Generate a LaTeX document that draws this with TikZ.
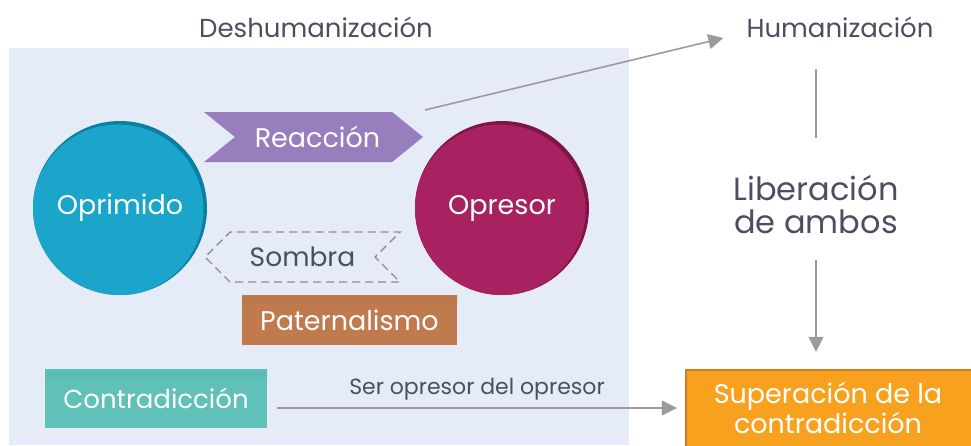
\documentclass[tikz,border=0pt]{standalone}
\usepackage{fontspec}
\setmainfont{Poppins}
\usetikzlibrary{arrows.meta,shapes.symbols,positioning}

\definecolor{bgblue}{HTML}{E6ECF7}
\definecolor{txtgray}{HTML}{4B5060}
\definecolor{arrgray}{HTML}{9A9B9F}
\definecolor{oprimcol}{HTML}{1BA5CB}
\definecolor{oprimrim}{HTML}{0A7FA3}
\definecolor{opresorcol}{HTML}{A82262}
\definecolor{opresorrim}{HTML}{7E1448}
\definecolor{reaccol}{HTML}{997EBD}
\definecolor{sombracol}{HTML}{8F8AA0}
\definecolor{patercol}{HTML}{C07A4E}
\definecolor{paterrim}{HTML}{8E5230}
\definecolor{contracol}{HTML}{60C1B8}
\definecolor{contrarim}{HTML}{1F8C93}
\definecolor{supercol}{HTML}{F7A11F}
\definecolor{superrim}{HTML}{D27A27}

\tikzset{
  plaintext/.style={text=txtgray, inner sep=0pt},
  whitetext/.style={text=white, inner sep=0pt},
  grayarrow/.style={draw=arrgray, line width=1.6pt, -{Triangle[length=15pt,width=15pt]}},
  grayline/.style={draw=arrgray, line width=1.6pt},
  disc/.style={circle, minimum size=174pt, inner sep=0pt, text=white,
    font=\fontsize{27}{30}\selectfont},
  topedge/.style 2 args={fill=#2, path picture={\shade[top color=#2, bottom color=#1]
    (path picture bounding box.north west) rectangle ([yshift=-7pt]path picture bounding box.north east);}},
}

\begin{document}
\begin{tikzpicture}[x=1pt,y=-1pt]
        \useasboundingbox (0,0) rectangle (971,445);

        % Draw the shaded panel
        \fill[bgblue] (9,48) rectangle (629,445);
        \node[plaintext, font=\fontsize{26}{30}\selectfont] (deshu) at (316,27) {Deshumanización};
        \node[plaintext, font=\fontsize{26}{30}\selectfont] (huma) at (840,27) {Humanización};

        % Draw the two circles
        \node[disc, fill=oprimrim,
          path picture={\fill[oprimcol] ([shift={(-2,2)}]path picture bounding box.center) circle (85.5);}]
          (opri) at (120,208) {Oprimido};
        \node[disc, fill=opresorrim,
          path picture={\fill[opresorcol] ([shift={(-2,2)}]path picture bounding box.center) circle (85.5);}]
          (opre) at (502,208) {Opresor};

        % Draw the reaction and the shadow
        \node[signal, signal to=east, signal from=west, signal pointer angle=78,
          fill=reaccol, minimum width=219pt, minimum height=50pt, inner sep=0pt,
          whitetext, font=\fontsize{27}{30}\selectfont] (reac) at (313.5,137) {\hspace{8pt}Reacción};
        \node[signal, signal to=west, signal from=east, signal pointer angle=90,
          draw=sombracol, line width=1.4pt, dash pattern=on 8pt off 5pt,
          minimum width=195pt, minimum height=50pt, inner sep=0pt,
          plaintext, font=\fontsize{26.5}{30}\selectfont] (sombra) at (302.5,257) {Sombra\hspace{10pt}};

        % Draw the boxes
        \node[topedge={paterrim}{patercol}, minimum width=215pt, minimum height=50pt, whitetext,
          font=\fontsize{27}{30}\selectfont] (pater) at (349.5,320) {Paternalismo};
        \node[topedge={contrarim}{contracol}, minimum width=222pt, minimum height=59pt, whitetext,
          font=\fontsize{26}{30}\selectfont] (contra) at (156,398.5) {Contradicción};
        \node[fill=supercol, minimum width=286pt, minimum height=78pt, whitetext, align=center,
          font=\fontsize{27}{30}\selectfont,
          path picture={\draw[superrim, line width=4pt]
            (path picture bounding box.south west) -- (path picture bounding box.north west)
            -- (path picture bounding box.north east);}]
          (supe) at (828,408) {Superación de la\\contradicción};

        % Draw the way out
        \node[plaintext, align=center, font=\fontsize{32}{33}\selectfont] (libe) at (816,205)
          {Liberación\\de ambos};
        \coordinate (reacout) at (425,110);
        \draw[grayarrow] (reacout) -- ([xshift=-23pt,yshift=-11pt]huma.west);
        \draw[grayline] ([yshift=-31pt]huma.south -| libe.north) -- ([yshift=38pt]libe.north);
        \draw[grayarrow] ([yshift=-26pt]libe.south) -- ([yshift=17pt]supe.north -| libe.south);
        \draw[grayarrow] ([xshift=10pt]contra.east |- supe.west) -- ([xshift=-8pt]supe.west)
          node[midway, above=7pt, plaintext, font=\fontsize{22}{25}\selectfont] {Ser opresor del opresor};
    \end{tikzpicture}
\end{document}
